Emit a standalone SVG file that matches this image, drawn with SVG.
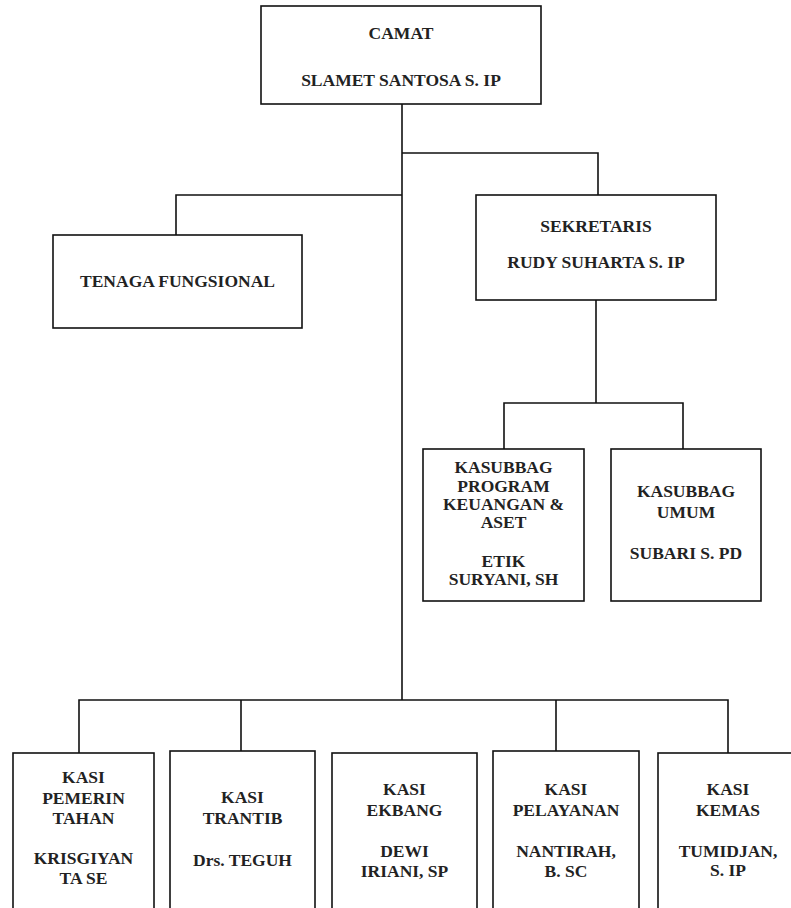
<svg xmlns="http://www.w3.org/2000/svg" width="791" height="908" viewBox="0 0 791 908">
<style>
.box{fill:#fff;stroke:#111;stroke-width:1.6}
.ln{fill:none;stroke:#111;stroke-width:1.6}
.t{font-family:'Liberation Serif','Times New Roman','DejaVu Serif',serif;font-weight:bold;font-size:17.5px;fill:#222;text-anchor:middle}
</style>
<rect width="791" height="908" fill="#fff"/>
<g id="connectors">
<path class="ln" d="M402,104 V700"/>
<path class="ln" d="M402,153 H598 V195"/>
<path class="ln" d="M402,195 H176 V235"/>
<path class="ln" d="M596,300 V403 M504,449 V403 H683 V449"/>
<path class="ln" d="M79,753 V700 H728 V753 M241,700 V751 M556,700 V751"/>
</g>
<g id="camat" class="t">
<rect class="box" x="261" y="6" width="280" height="98"/>
<text x="401" y="39">CAMAT</text>
<text x="401" y="86">SLAMET SANTOSA S. IP</text>
</g>
<g id="tenaga" class="t">
<rect class="box" x="53" y="235" width="249" height="93"/>
<text x="177.5" y="287">TENAGA FUNGSIONAL</text>
</g>
<g id="sekretaris" class="t">
<rect class="box" x="476" y="195" width="240" height="105"/>
<text x="596" y="232">SEKRETARIS</text>
<text x="596" y="268">RUDY SUHARTA S. IP</text>
</g>
<g id="kasubbag-program" class="t">
<rect class="box" x="423" y="449" width="161" height="152"/>
<text x="503.5" y="473">KASUBBAG</text>
<text x="503.5" y="492">PROGRAM</text>
<text x="503.5" y="510">KEUANGAN &amp;</text>
<text x="503.5" y="528">ASET</text>
<text x="503.5" y="567">ETIK</text>
<text x="503.5" y="585">SURYANI, SH</text>
</g>
<g id="kasubbag-umum" class="t">
<rect class="box" x="611" y="449" width="150" height="152"/>
<text x="686" y="497">KASUBBAG</text>
<text x="686" y="518">UMUM</text>
<text x="686" y="559">SUBARI S. PD</text>
</g>
<g id="kasi-pemerintahan" class="t">
<rect class="box" x="13" y="753" width="141" height="170"/>
<text x="83.5" y="783">KASI</text>
<text x="83.5" y="804">PEMERIN</text>
<text x="83.5" y="824">TAHAN</text>
<text x="83.5" y="864">KRISGIYAN</text>
<text x="83.5" y="884">TA SE</text>
</g>
<g id="kasi-trantib" class="t">
<rect class="box" x="170" y="751" width="145" height="172"/>
<text x="242.5" y="803">KASI</text>
<text x="242.5" y="824">TRANTIB</text>
<text x="242.5" y="866">Drs. TEGUH</text>
</g>
<g id="kasi-ekbang" class="t">
<rect class="box" x="332" y="753" width="145" height="170"/>
<text x="404.5" y="795">KASI</text>
<text x="404.5" y="816">EKBANG</text>
<text x="404.5" y="857">DEWI</text>
<text x="404.5" y="877">IRIANI, SP</text>
</g>
<g id="kasi-pelayanan" class="t">
<rect class="box" x="493" y="751" width="146" height="172"/>
<text x="566" y="795">KASI</text>
<text x="566" y="816">PELAYANAN</text>
<text x="566" y="857">NANTIRAH,</text>
<text x="566" y="877">B. SC</text>
</g>
<g id="kasi-kemas" class="t">
<rect class="box" x="658" y="753" width="142" height="170"/>
<text x="728" y="795">KASI</text>
<text x="728" y="816">KEMAS</text>
<text x="728" y="857">TUMIDJAN,</text>
<text x="728" y="876">S. IP</text>
</g>
</svg>
